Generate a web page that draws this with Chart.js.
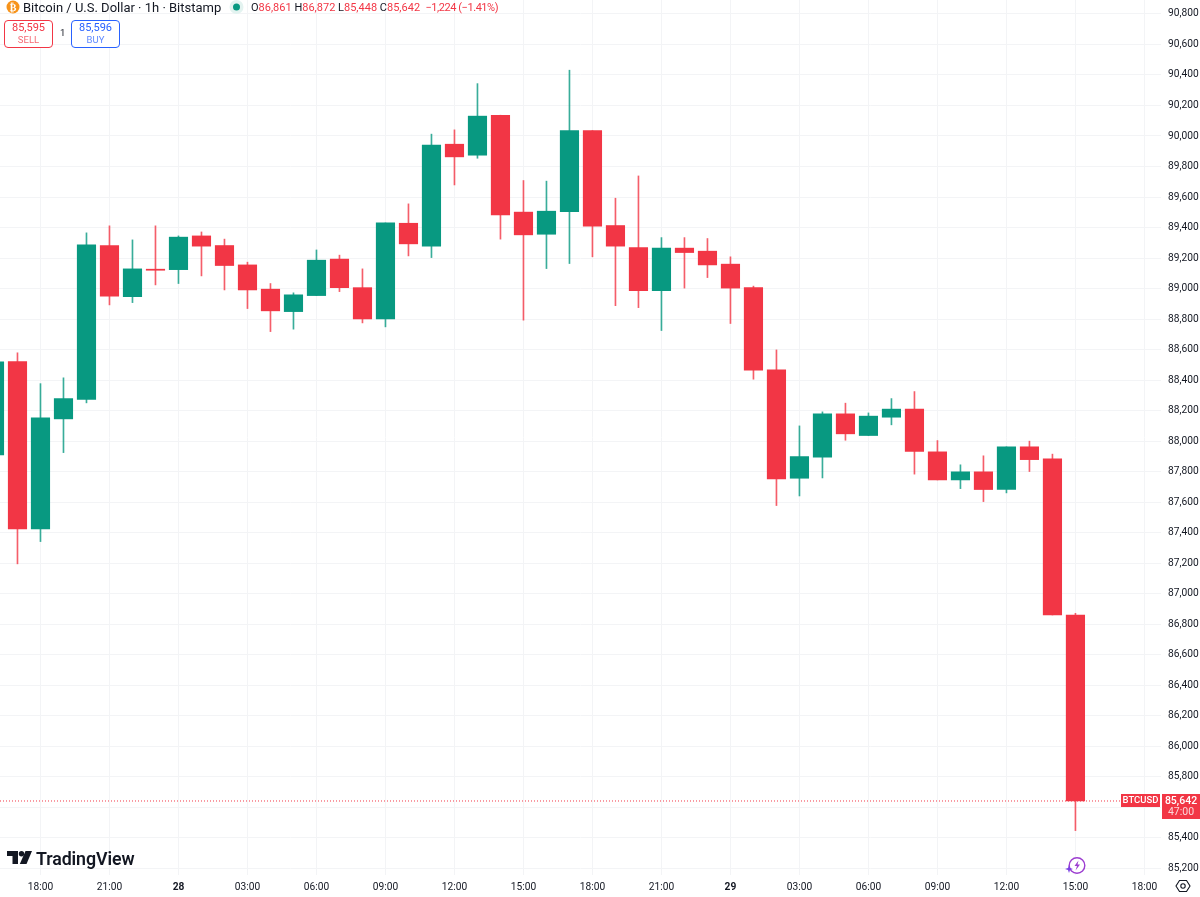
<!DOCTYPE html>
<html>
<head>
<meta charset="utf-8">
<title>BTCUSD</title>
<script src="https://cdn.jsdelivr.net/npm/chart.js@4"></script>
<style>
  html, body { margin: 0; padding: 0; background: #fff; }
  #wrap { position: relative; width: 1200px; height: 897px; overflow: hidden; font-family: Roboto, "Noto Sans", sans-serif; color: #131722; }
  #wrap > * { position: absolute; }
  #title { left: 23px; top: -1px; font-size: 13px; line-height: 17px; white-space: nowrap; }
  #ohlc { left: 251px; top: 0; font-size: 11px; line-height: 15px; white-space: nowrap; color: #f23645; }
  #ohlc b { font-weight: 400; color: #131722; }
  #ohlc i { font-style: normal; letter-spacing: -.45px; }
  .btn { top: 20px; height: 25px; width: 47px; border: 1px solid; border-radius: 4px; text-align: center; background: #fff; font-size: 11px; line-height: 12px; padding-top: 1px; }
  .btn span { display: block; font-size: 9.5px; line-height: 12px; opacity: .75; }
  #sell { left: 4px; color: #f23645; border-color: #f23645; }
  #buy { left: 71px; color: #2962ff; border-color: #2962ff; }
  #qty { left: 60px; top: 27px; font-size: 9.5px; line-height: 12px; }
  #brand { left: 36px; top: 848px; font-size: 17.8px; line-height: 22px; font-weight: 600; letter-spacing: -.1px; white-space: nowrap; }
</style>
</head>
<body>
<div id="wrap">
  <canvas id="chart" width="1200" height="897"></canvas>

  <svg style="left:6px;top:0" width="14" height="14" viewBox="0 0 14 14"><circle cx="7" cy="7" r="6.5" fill="#f7931a"/><text x="7" y="10.5" font-size="10" font-weight="700" text-anchor="middle" fill="#fff" font-family="Roboto">₿</text></svg>
  <div id="title">Bitcoin / U.S. Dollar · 1h · Bitstamp</div>
  <svg style="left:229px;top:0" width="15" height="15" viewBox="0 0 15 15"><circle cx="7.5" cy="7" r="7" fill="#e3f3f0"/><circle cx="7.5" cy="7" r="3.5" fill="#089981"/></svg>
  <div id="ohlc"><b>O</b>86,861 <b>H</b>86,872 <b>L</b>85,448 <b>C</b>85,642 &nbsp;<i>−1,224 (−1.41%)</i></div>

  <div class="btn" id="sell">85,595<span>SELL</span></div>
  <div id="qty">1</div>
  <div class="btn" id="buy">85,596<span>BUY</span></div>

  <svg style="left:7px;top:851px" width="25" height="14" viewBox="0 0 25 14"><path d="M0 0H11V13H5.5V5H0Z" fill="#131722"/><circle cx="14.5" cy="2.7" r="2.7" fill="#131722"/><path d="M18.5 0H25L19.5 13H12.8Z" fill="#131722"/></svg>
  <div id="brand">TradingView</div>

  <svg style="left:1065px;top:855px" width="22" height="21" viewBox="0 0 22 21"><circle cx="12" cy="10.5" r="7.8" fill="#fff" stroke="#9c3dd0" stroke-width="1.4"/><path d="M13.5 5.5L9.5 11H12L10.5 15.5L15 9.5H12.5Z" fill="#9c3dd0"/><path d="M4 10L5 13L8 14L5 15L4 18L3 15L0 14L3 13Z" fill="#7b3fe4"/></svg>
  <svg style="left:1175px;top:878px" width="16" height="16" viewBox="0 0 16 16"><path d="M4.5 2.5H11.5L15 8L11.5 13.5H4.5L1 8Z" fill="none" stroke="#131722" stroke-width="1.1"/><circle cx="8" cy="8" r="2.2" fill="none" stroke="#131722" stroke-width="1.1"/></svg>
</div>

<script>
// hours counted from 00:00 on the 27th, one candle per hour
const hours = [];
for (let h = 16; h <= 63; h++) hours.push(h);

const opens = [87910, 88522, 87425, 88146, 88273, 89282, 88947, 89127, 89124, 89345, 89282, 89155, 88996, 88849, 88954, 89193,
  89006, 88801, 89428, 89278, 89946, 89874, 90136, 89501, 89356, 89504, 90035, 89413, 89269, 88987, 89265, 89245,
  89160, 89006, 88467, 87757, 87895, 88179, 88037, 88157, 88210, 87930, 87746, 87799, 87683, 87963, 87884, 86861];
const highs = [88600, 88579, 88377, 88415, 89365, 89411, 89319, 89411, 89345, 89371, 89324, 89173, 89033, 88972, 89253, 89219,
  89129, 89430, 89555, 90012, 90040, 90343, 90136, 89708, 89704, 90431, 90035, 89592, 89738, 89334, 89334, 89328,
  89208, 89016, 88598, 88100, 88192, 88249, 88185, 88279, 88325, 88004, 87845, 87904, 87963, 88000, 87915, 86872];
const lows = [87800, 87196, 87342, 87925, 88251, 88893, 88908, 89024, 89033, 89083, 88991, 88869, 88718, 88734, 88954, 88980,
  88775, 88749, 89214, 89203, 89679, 89854, 89324, 88793, 89131, 89164, 89208, 88888, 88875, 88725, 89003, 89072,
  88771, 88406, 87578, 87641, 87759, 88006, 88037, 88107, 87784, 87746, 87689, 87604, 87661, 87801, 86861, 85448];
const closes = [88520, 87425, 88153, 88279, 89286, 88950, 89129, 89120, 89337, 89278, 89151, 88991, 88854, 88959, 89186, 89006,
  88801, 89430, 89293, 89940, 89863, 90130, 89483, 89352, 89507, 90035, 89409, 89278, 88987, 89265, 89236, 89155,
  89003, 88465, 87753, 87899, 88179, 88048, 88164, 88210, 87932, 87746, 87799, 87683, 87963, 87879, 86861, 85642];

const priceTicks = [90800, 90600, 90400, 90200, 90000, 89800, 89600, 89400, 89200, 89000, 88800, 88600, 88400, 88200, 88000,
  87800, 87600, 87400, 87200, 87000, 86800, 86600, 86400, 86200, 86000, 85800, 85600, 85400, 85200];
const timeTickHours = [18, 21, 24, 27, 30, 33, 36, 39, 42, 45, 48, 51, 54, 57, 60, 63, 66];
const timeTickLabels = ['18:00', '21:00', '28', '03:00', '06:00', '09:00', '12:00', '15:00', '18:00', '21:00', '29', '03:00', '06:00', '09:00', '12:00', '15:00', '18:00'];

const lastPrice = 85642;
const symbolTag = 'BTCUSD';
const lastPriceText = '85,642';
const countdownText = '47:00';

const UP = '#089981';
const DOWN = '#f23645';
const GRID = '#f3f4f6';

const candleColors = closes.map((c, i) => (c >= opens[i] ? UP : DOWN));
const wickColors = candleColors.map((c) => c + 'cc');
const wicks = hours.map((h, i) => ({ x: h, y: [lows[i], highs[i]] }));
const bodies = hours.map((h, i) => ({ x: h, y: [opens[i], closes[i]] }));

const xMin = 16.24;
const xMax = 66.72;

// chart.js keeps room for half a tick label at the ends, the plot here runs to the edge
const noMargins = (axis) => {
  axis.paddingLeft = 0;
  axis.paddingRight = 0;
  axis.paddingTop = 0;
  axis.paddingBottom = 0;
};

// last price tags sit on top of the price axis
const priceTags = {
  id: 'priceTags',
  afterDraw(chart) {
    const { ctx, scales } = chart;
    const y = Math.round(scales.y.getPixelForValue(lastPrice));
    ctx.save();
    ctx.fillStyle = DOWN;
    ctx.fillRect(1121, y - 7, 39, 13);
    ctx.fillRect(1162, y - 7, 38, 25);
    ctx.textBaseline = 'middle';
    ctx.textAlign = 'center';
    ctx.fillStyle = '#fff';
    ctx.font = '500 9.5px Roboto';
    ctx.fillText(symbolTag, 1140.5, y);
    ctx.font = '500 10.5px Roboto';
    ctx.fillText(lastPriceText, 1181, y);
    ctx.fillStyle = '#fbd5d9';
    ctx.font = '10.5px Roboto';
    ctx.fillText(countdownText, 1181, y + 11);
    ctx.restore();
  },
};

new Chart('chart', {
  data: {
    datasets: [
      {
        type: 'line',
        data: [{ x: xMin, y: lastPrice }, { x: xMax, y: lastPrice }],
        borderColor: DOWN,
        borderWidth: 1,
        borderDash: [1, 2],
        pointRadius: 0,
        order: 3,
      },
      {
        type: 'bar',
        data: wicks,
        backgroundColor: wickColors,
        barThickness: 1,
        grouped: false,
        order: 2,
      },
      {
        type: 'bar',
        data: bodies,
        backgroundColor: candleColors,
        barThickness: 18.5,
        grouped: false,
        order: 1,
      },
    ],
  },
  options: {
    responsive: false,
    animation: false,
    events: [],
    layout: { padding: 0 },
    plugins: { legend: { display: false }, tooltip: { enabled: false } },
    scales: {
      x: {
        type: 'linear',
        offset: false,
        min: xMin,
        max: xMax,
        grid: { color: GRID, drawTicks: false, offset: false },
        border: { display: false },
        afterBuildTicks: (axis) => {
          axis.ticks = timeTickHours.map((value) => ({ value }));
        },
        afterFit: (axis) => {
          axis.height = 22;
          noMargins(axis);
        },
        ticks: {
          autoSkip: false,
          maxRotation: 0,
          padding: 6,
          color: '#131722',
          font: (c) => ({
            family: 'Roboto',
            size: 10.2,
            weight: timeTickLabels[c.index] && timeTickLabels[c.index].length === 2 ? '700' : '400',
          }),
          callback: (value, i) => timeTickLabels[i],
        },
      },
      y: {
        type: 'linear',
        position: 'right',
        min: 85157,
        max: 90891,
        grid: { color: GRID, drawTicks: false },
        border: { display: false },
        afterBuildTicks: (axis) => {
          axis.ticks = priceTicks.map((value) => ({ value }));
        },
        afterFit: (axis) => {
          axis.width = 39;
          noMargins(axis);
        },
        ticks: {
          autoSkip: false,
          padding: 7,
          color: '#131722',
          font: { family: 'Roboto', size: 10.2 },
          callback: (value) => value.toLocaleString('en-US'),
        },
      },
    },
  },
  plugins: [priceTags],
});
</script>
</body>
</html>
